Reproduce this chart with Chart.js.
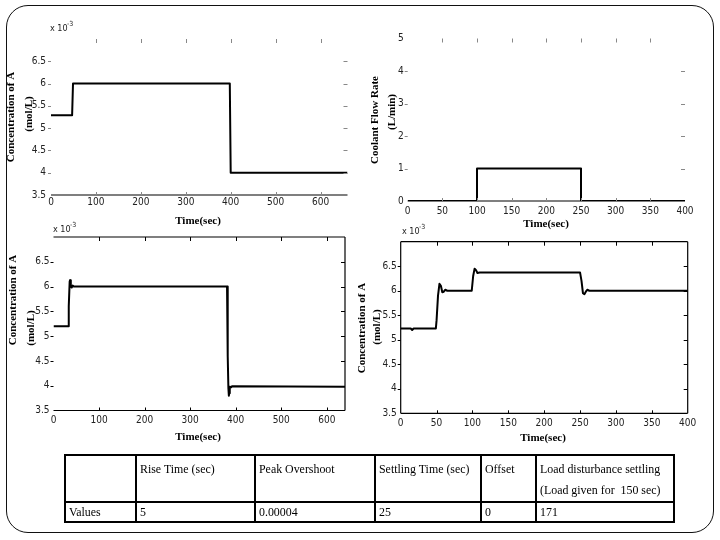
<!DOCTYPE html>
<html><head><meta charset="utf-8">
<script src="https://cdn.jsdelivr.net/npm/chart.js@4.4.1/dist/chart.umd.min.js"></script>
<style>
html,body{margin:0;padding:0;background:#fff;}
#page{position:relative;width:720px;height:540px;overflow:hidden;background:#fff;}
canvas.plot{position:absolute;left:0;top:0;}
#frame{position:absolute;left:6px;top:5px;width:708px;height:528px;box-sizing:border-box;border:1.5px solid #111;border-radius:22px;}
#tbl{position:absolute;left:64px;top:454px;border-collapse:collapse;table-layout:fixed;width:611px;font-family:"Liberation Serif",serif;font-size:11.9px;color:#000;}
#tbl td{border:2px solid #000;padding:0 0 0 3px;white-space:pre;overflow:hidden;}
#tbl tr.h td{height:41px;vertical-align:top;padding-top:3px;line-height:21px;}
#tbl tr.v td{height:18px;vertical-align:middle;line-height:18px;}
</style></head>
<body><div id="page">
<div id="frame"></div>
<canvas class="plot" id="c1" width="720" height="540"></canvas>
<canvas class="plot" id="c2" width="720" height="540"></canvas>
<canvas class="plot" id="c3" width="720" height="540"></canvas>
<canvas class="plot" id="c4" width="720" height="540"></canvas>
<table id="tbl"></table>
</div>
<script>
// ---- data (concentrations in units of 1e-3 mol/L) ----
const setpointTime = [0, 47, 49, 398, 400, 660];
const setpointConc = [5.29, 5.29, 6.0, 6.0, 4.0, 4.0];

const coolantTime = [0, 100, 100, 250, 250, 400];
const coolantFlow = [0, 0, 1, 1, 0, 0];

const servoTime = [0, 32, 33, 34, 35.5, 36.5, 38, 40, 42, 45, 381, 382, 383, 384, 385, 386, 387, 390, 392, 640];
const servoConc = [5.2, 5.2, 5.55, 5.6, 6.1, 6.13, 6.0, 5.98, 6.02, 6.0, 6.0, 5.15, 4.6, 3.95, 3.8, 3.85, 3.98, 3.97, 3.99, 3.98];

const loadTime = [0, 14, 16, 18, 49, 50, 52, 54, 56, 58, 60, 62, 65, 99, 101, 103, 105, 107, 110, 250, 252, 254, 256, 258, 260, 263, 400];
const loadConc = [5.23, 5.23, 5.2, 5.23, 5.23, 5.4, 5.9, 6.14, 6.1, 5.97, 5.98, 6.02, 6.0, 6.0, 6.3, 6.45, 6.42, 6.36, 6.37, 6.37, 6.2, 5.95, 5.93, 5.98, 6.02, 6.0, 6.0];

const concTicks = [3.5, 4, 4.5, 5, 5.5, 6, 6.5];
const flowTicks = [0, 1, 2, 3, 4, 5];

const tableHeaders = ["", "Rise Time (sec)", "Peak Overshoot", "Settling Time (sec)", "Offset", "Load disturbance settling|(Load given for  150 sec)"];
const tableValues = ["Values", "5", "0.00004", "25", "0", "171"];
const colWidths = [71, 119, 120, 106, 55, 138];

const tickFont = '"Liberation Sans Narrow", "DejaVu Sans Condensed", "Liberation Sans", sans-serif';

// ---- helpers ----
function pts(xs, ys){ return xs.map((x,i)=>({x:x, y:ys[i]})); }

function deco(cfg){
  return { id:'deco', afterDraw(chart){
    const ctx = chart.ctx, a = chart.chartArea, xs = chart.scales.x, ys = chart.scales.y;
    ctx.save();
    ctx.strokeStyle = '#000'; ctx.lineWidth = 1.2;
    cfg.box.forEach(side=>{
      ctx.beginPath();
      if(side==='top'){ctx.moveTo(a.left,a.top);ctx.lineTo(a.right,a.top);}
      if(side==='bottom'){ctx.moveTo(a.left,a.bottom);ctx.lineTo(a.right,a.bottom);}
      if(side==='left'){ctx.moveTo(a.left,a.top);ctx.lineTo(a.left,a.bottom);}
      if(side==='right'){ctx.moveTo(a.right,a.top);ctx.lineTo(a.right,a.bottom);}
      ctx.stroke();
    });
    ctx.strokeStyle = cfg.tickColor; ctx.lineWidth = 1;
    xs.ticks.forEach(t=>{
      const p = Math.round(xs.getPixelForValue(t.value))+0.5;
      if(p <= a.left+2 || p >= a.right-2) return;
      ctx.beginPath(); ctx.moveTo(p,a.bottom); ctx.lineTo(p,a.bottom-3); ctx.stroke();
      ctx.beginPath(); ctx.moveTo(p,a.top); ctx.lineTo(p,a.top+4); ctx.stroke();
    });
    ys.ticks.forEach(t=>{
      const p = Math.round(ys.getPixelForValue(t.value))+0.5;
      if(p >= a.bottom-2 || p <= a.top+2) return;
      ctx.beginPath(); ctx.moveTo(a.left-3,p); ctx.lineTo(a.left,p); ctx.stroke();
      ctx.beginPath(); ctx.moveTo(a.right-4,p); ctx.lineTo(a.right,p); ctx.stroke();
    });
    ctx.fillStyle = '#000';
    ctx.font = 'bold 11px "Liberation Serif"';
    ctx.textAlign = 'center'; ctx.textBaseline = 'middle';
    ctx.fillText('Time(sec)', cfg.xTitle[0], cfg.xTitle[1]);
    cfg.yTitles.forEach(([txt,x,y])=>{
      ctx.save(); ctx.translate(x,y); ctx.rotate(-Math.PI/2); ctx.fillText(txt,0,0); ctx.restore();
    });
    if(cfg.exp){
      ctx.fillStyle = '#222';
      ctx.textAlign = 'left';
      ctx.font = '9px ' + tickFont;
      ctx.fillText('x 10', cfg.exp[0], cfg.exp[1]);
      ctx.font = '7px ' + tickFont;
      ctx.fillText('-3', cfg.exp[0]+17, cfg.exp[1]-5);
    }
    ctx.restore();
  }};
}

function makeChart(id, xs, ys, area, xr, yr, yTickVals, padX, padY, cfg){
  const yW = 40, xH = 18;
  new Chart(document.getElementById(id), {
    type:'line',
    data:{ datasets:[{ data: pts(xs, ys), borderColor:'#000', borderWidth:2, borderJoinStyle:'round', pointRadius:0, tension:0, fill:false }] },
    options:{
      responsive:false, animation:false, devicePixelRatio:1,
      layout:{ autoPadding:false, padding:{ left: area.L - yW, top: area.T, right: 720 - area.R, bottom: 540 - area.B - xH } },
      plugins:{ legend:{display:false}, tooltip:{enabled:false} },
      scales:{
        x:{ type:'linear', min:xr[0], max:xr[1], border:{display:false}, grid:{display:false, drawTicks:false},
            afterFit:(s)=>{ s.height = xH; },
            ticks:{ stepSize:xr[2], includeBounds:false, autoSkip:false, maxRotation:0, padding:padX,
                    font:{family:tickFont, size:10}, color:'#222' } },
        y:{ type:'linear', min:yr[0], max:yr[1], border:{display:false}, grid:{display:false, drawTicks:false},
            afterFit:(s)=>{ s.width = yW; },
            afterBuildTicks:(s)=>{ s.ticks = yTickVals.map(v=>({value:v})); },
            ticks:{ autoSkip:false, padding:padY,
                    font:{family:tickFont, size:10}, color:'#222',
                    callback:(v)=> String(v) } }
      }
    },
    plugins:[deco(cfg)]
  });
}

// Top-left: setpoint change
makeChart('c1', setpointTime, setpointConc, {L:51, R:347.5, T:39, B:195}, [0,660,100], [3.5,7], concTicks, 1, 5,
  { box:['bottom'], tickColor:'#888', xTitle:[198,221],
    yTitles:[['Concentration of A',11,117],['(mol/L)',29.5,114]], exp:[50,29] });

// Top-right: coolant flow disturbance
makeChart('c2', coolantTime, coolantFlow, {L:407.7, R:685, T:38.5, B:201}, [0,400,50], [0,5], flowTicks, 4, 4,
  { box:['bottom'], tickColor:'#888', xTitle:[546,224],
    yTitles:[['Coolant Flow Rate',375,120],['(L/min)',392,112]], exp:null });

// Bottom-left: servo response
makeChart('c3', servoTime, servoConc, {L:53.5, R:345, T:237, B:410.5}, [0,640,100], [3.5,7], concTicks, 4, 4,
  { box:['top','right','bottom'], tickColor:'#000', xTitle:[198,437],
    yTitles:[['Concentration of A',13,300],['(mol/L)',31,328]], exp:[53,230] });

// Bottom-right: load disturbance response
makeChart('c4', loadTime, loadConc, {L:400.7, R:687.7, T:241.7, B:413.3}, [0,400,50], [3.5,7], concTicks, 4, 4,
  { box:['top','right','bottom','left'], tickColor:'#000', xTitle:[543,438],
    yTitles:[['Concentration of A',362,328],['(mol/L)',377,327]], exp:[402,232] });

// ---- table ----
const tbl = document.getElementById('tbl');
const cg = document.createElement('colgroup');
colWidths.forEach(w=>{ const c=document.createElement('col'); c.style.width=w+'px'; cg.appendChild(c); });
tbl.appendChild(cg);
const tr1 = document.createElement('tr'); tr1.className='h';
tableHeaders.forEach(h=>{ const td=document.createElement('td'); h.split('|').forEach((line,i)=>{ if(i) td.appendChild(document.createElement('br')); td.appendChild(document.createTextNode(line)); }); tr1.appendChild(td); });
tbl.appendChild(tr1);
const tr2 = document.createElement('tr'); tr2.className='v';
tableValues.forEach(v=>{ const td=document.createElement('td'); td.textContent=v; tr2.appendChild(td); });
tbl.appendChild(tr2);
</script>
</body></html>
